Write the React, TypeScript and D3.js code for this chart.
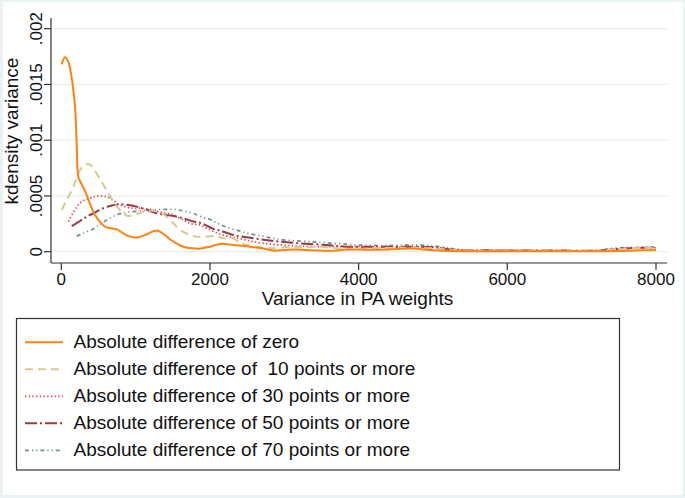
import React from "react";
import * as d3 from "d3";

// Data (x = variance in PA weights, y = density in units of 1e-3)
const zeroX = [5, 50, 95, 140, 170, 189, 207, 229, 255, 300, 341, 409, 453, 520, 588, 650, 745, 834, 924, 1036, 1149, 1283, 1395, 1462, 1550, 1641, 1760, 1866, 2000, 2135, 2314, 2538, 2700, 2852, 3000, 3121, 3300, 3480, 3650, 3840, 4100, 4400, 4700, 5000, 5300, 5700, 6200, 6700, 7200, 7500, 7800, 8000];
const zeroY = [1.68, 1.743, 1.7, 1.56, 1.4, 1.26, 0.96, 0.67, 0.63, 0.57, 0.51, 0.39, 0.33, 0.27, 0.224, 0.213, 0.2, 0.165, 0.135, 0.13, 0.156, 0.19, 0.15, 0.11, 0.075, 0.045, 0.03, 0.027, 0.045, 0.07, 0.06, 0.045, 0.03, 0.01, 0.015, 0.02, 0.015, 0.01, 0.008, 0.02, 0.018, 0.02, 0.028, 0.012, 0.005, 0.004, 0.004, 0.004, 0.004, 0.006, 0.012, 0.016];

const p10X = [5, 70, 140, 200, 250, 300, 350, 410, 476, 540, 610, 690, 767, 840, 900, 980, 1059, 1150, 1238, 1330, 1418, 1507, 1597, 1731, 1821, 1956, 2090, 2180, 2314, 2404, 2500, 2628, 2852, 3076, 3211, 3480, 3840, 4200, 4600, 5000, 5300, 5700, 6200, 6700, 7200, 7500, 7800, 8000];
const p10Y = [0.374, 0.46, 0.55, 0.65, 0.73, 0.77, 0.787, 0.77, 0.7, 0.63, 0.55, 0.46, 0.39, 0.34, 0.32, 0.33, 0.35, 0.365, 0.368, 0.35, 0.314, 0.255, 0.195, 0.15, 0.135, 0.135, 0.14, 0.12, 0.12, 0.08, 0.06, 0.045, 0.03, 0.045, 0.04, 0.045, 0.02, 0.03, 0.035, 0.03, 0.012, 0.01, 0.01, 0.01, 0.01, 0.02, 0.035, 0.03];

const p30X = [95, 160, 229, 300, 386, 450, 520, 590, 655, 720, 790, 880, 969, 1059, 1193, 1300, 1418, 1507, 1641, 1750, 1866, 1956, 2090, 2200, 2314, 2450, 2583, 2852, 3211, 3659, 4000, 4400, 4800, 5100, 5400, 6000, 6600, 7200, 7500, 7800, 8000];
const p30Y = [0.27, 0.35, 0.42, 0.46, 0.48, 0.495, 0.5, 0.495, 0.48, 0.45, 0.42, 0.4, 0.39, 0.39, 0.38, 0.36, 0.344, 0.33, 0.284, 0.25, 0.24, 0.21, 0.17, 0.145, 0.13, 0.11, 0.09, 0.065, 0.05, 0.045, 0.045, 0.04, 0.045, 0.035, 0.015, 0.012, 0.01, 0.01, 0.025, 0.035, 0.035];

const p50X = [140, 250, 341, 450, 565, 680, 790, 900, 1014, 1150, 1283, 1400, 1507, 1640, 1776, 1866, 2045, 2135, 2314, 2538, 2750, 2942, 3211, 3570, 3840, 4200, 4600, 5000, 5300, 5700, 6200, 6700, 7200, 7500, 7800, 8000];
const p50Y = [0.23, 0.275, 0.314, 0.35, 0.39, 0.415, 0.425, 0.418, 0.404, 0.375, 0.344, 0.33, 0.32, 0.3, 0.27, 0.26, 0.205, 0.19, 0.15, 0.125, 0.105, 0.09, 0.075, 0.06, 0.045, 0.045, 0.045, 0.04, 0.015, 0.012, 0.01, 0.01, 0.01, 0.025, 0.035, 0.035];

const p70X = [207, 300, 400, 476, 600, 745, 850, 969, 1100, 1193, 1350, 1507, 1650, 1776, 1900, 2000, 2100, 2225, 2404, 2538, 2700, 2852, 3000, 3211, 3400, 3570, 3840, 4000, 4400, 4800, 5100, 5400, 6000, 6600, 7200, 7400, 7800, 8000];
const p70Y = [0.14, 0.165, 0.195, 0.224, 0.28, 0.33, 0.35, 0.36, 0.37, 0.374, 0.378, 0.38, 0.365, 0.344, 0.31, 0.29, 0.255, 0.22, 0.185, 0.16, 0.14, 0.12, 0.105, 0.095, 0.088, 0.08, 0.068, 0.06, 0.055, 0.06, 0.045, 0.015, 0.01, 0.01, 0.01, 0.03, 0.04, 0.04];

const xTicks = [0, 2000, 4000, 6000, 8000];
const yTicks = [0, 0.0005, 0.001, 0.0015, 0.002];
const yTickLabels = ["0", ".0005", ".001", ".0015", ".002"];

const seriesNames = [
  "Absolute difference of zero",
  "Absolute difference of  10 points or more",
  "Absolute difference of 30 points or more",
  "Absolute difference of 50 points or more",
  "Absolute difference of 70 points or more",
];
const seriesX = [zeroX, p10X, p30X, p50X, p70X];
const seriesY = [zeroY, p10Y, p30Y, p50Y, p70Y];

const styles = [
  { color: "#ff8213", dash: "", width: 2 },
  { color: "#d6ca8f", dash: "8,5", width: 2 },
  { color: "#f2383c", dash: "1.3,2.4", width: 1.7 },
  { color: "#9a3a45", dash: "12,3,2,3", width: 2 },
  { color: "#6f918d", dash: "4,3,1.2,3,1.2,3", width: 1.7 },
];

const FONT = "'Liberation Sans', Arial, Helvetica, sans-serif";

export default function App() {
  const W = 685, H = 498;
  const x = d3.scaleLinear().domain([0, 8000]).range([61.3, 656]);
  const y = d3.scaleLinear().domain([0, 0.002]).range([251.7, 28.7]);
  const line = d3
    .line<[number, number]>()
    .x((d) => x(d[0]))
    .y((d) => y(d[1] / 1000))
    .curve(d3.curveCatmullRom.alpha(0.5));

  const axisLeft = 51, axisBottom = 263, plotRight = 667, plotTop = 18;
  const legendRows = [348.3, 375.3, 402.3, 429.3, 456.3];

  return (
    <svg
      width={W}
      height={H}
      style={{ position: "absolute", left: 0, top: 0, fontFamily: FONT }}
    >
      <rect x={0} y={0} width={W} height={H} fill="#eaf2f3" />
      <rect x={3} y={2} width={680} height={493} fill="#ffffff" />

      {/* gridlines */}
      {yTicks.map((t, i) => (
        <line key={"g" + i} x1={axisLeft} x2={plotRight} y1={y(t)} y2={y(t)} stroke="#e6efef" strokeWidth={1.2} />
      ))}

      {/* series */}
      {seriesX.map((xs, i) => {
        const pts = xs.map((v, j) => [v, seriesY[i][j]] as [number, number]);
        return (
          <path
            key={"s" + i}
            d={line(pts) || ""}
            fill="none"
            stroke={styles[i].color}
            strokeWidth={styles[i].width}
            strokeDasharray={styles[i].dash || undefined}
          />
        );
      }).reverse()}

      {/* axes */}
      <line x1={axisLeft} x2={axisLeft} y1={plotTop} y2={axisBottom} stroke="#333" strokeWidth={1.2} />
      <line x1={axisLeft} x2={plotRight} y1={axisBottom} y2={axisBottom} stroke="#333" strokeWidth={1.2} />
      {yTicks.map((t, i) => (
        <g key={"yt" + i}>
          <line x1={44} x2={axisLeft} y1={y(t)} y2={y(t)} stroke="#333" strokeWidth={1.2} />
          <text
            transform={`translate(42,${y(t)}) rotate(-90)`}
            textAnchor="middle"
            fontSize={17}
            fill="#111"
          >
            {yTickLabels[i]}
          </text>
        </g>
      ))}
      {xTicks.map((t, i) => (
        <g key={"xt" + i}>
          <line x1={x(t)} x2={x(t)} y1={axisBottom} y2={270} stroke="#333" strokeWidth={1.2} />
          <text x={x(t)} y={284.5} textAnchor="middle" fontSize={17} fill="#111">
            {t}
          </text>
        </g>
      ))}
      <text x={357.5} y={305} textAnchor="middle" fontSize={19} fill="#111">
        Variance in PA weights
      </text>
      <text transform="translate(18,131) rotate(-90)" textAnchor="middle" fontSize={19} fill="#111">
        kdensity variance
      </text>

      {/* legend */}
      <rect x={16.5} y={318.5} width={603} height={151.5} fill="#fff" stroke="#333" strokeWidth={1.2} />
      {seriesNames.map((name, i) => (
        <g key={"l" + i}>
          <line
            x1={25}
            x2={63}
            y1={legendRows[i] - 6}
            y2={legendRows[i] - 6}
            stroke={styles[i].color}
            strokeWidth={styles[i].width}
            strokeDasharray={styles[i].dash || undefined}
          />
          <text x={73.5} y={legendRows[i]} fontSize={19} fill="#111" style={{ whiteSpace: "pre" }}>
            {name}
          </text>
        </g>
      ))}
    </svg>
  );
}
